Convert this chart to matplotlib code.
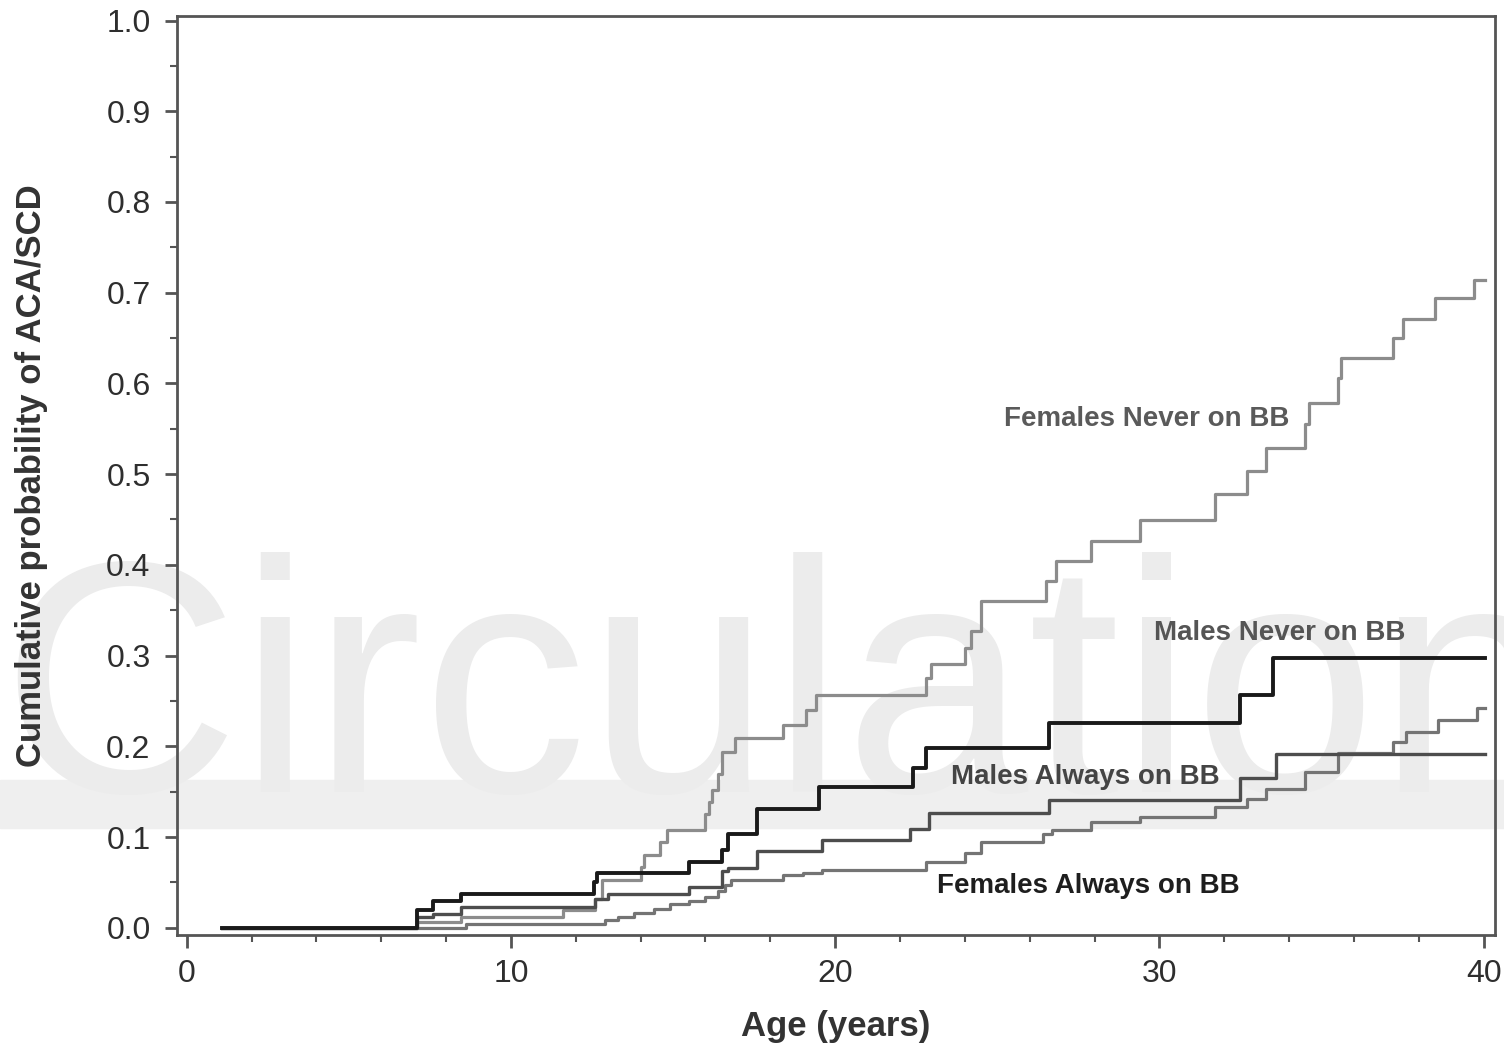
import matplotlib.pyplot as plt
from matplotlib.patches import Rectangle
from matplotlib.ticker import MultipleLocator

# curves: age (years) and cumulative probability, step after each age
males_never_age = [1.1, 7.1, 7.6, 8.45, 12.55, 12.65, 15.5, 16.5, 16.7, 17.6, 19.5,
                   22.4, 22.8, 26.6, 32.5, 33.5, 40.05]
males_never_prob = [0, 0.02, 0.03, 0.037, 0.05, 0.06, 0.073, 0.086, 0.103, 0.131, 0.155,
                    0.176, 0.198, 0.226, 0.257, 0.297, 0.297]

males_always_age = [1.1, 7.1, 7.6, 8.45, 12.6, 13.0, 15.5, 16.5, 16.7, 17.6, 19.6,
                    22.3, 22.9, 26.6, 32.5, 33.6, 40.05]
males_always_prob = [0, 0.012, 0.015, 0.023, 0.032, 0.037, 0.045, 0.062, 0.066, 0.085, 0.097,
                     0.109, 0.127, 0.141, 0.165, 0.192, 0.192]

females_never_age = [1.1, 7.1, 8.45, 11.6, 12.6, 12.8, 14.0, 14.1, 14.6, 14.8, 16.0,
                     16.1, 16.2, 16.4, 16.5, 16.9, 18.4, 19.1, 19.4, 22.8, 22.95,
                     24.0, 24.2, 24.5, 26.5, 26.8, 27.9, 29.4, 31.7, 32.7, 33.3,
                     34.5, 34.6, 35.5, 35.6, 37.2, 37.5, 38.5, 39.7, 40.05]
females_never_prob = [0, 0.006, 0.012, 0.02, 0.032, 0.053, 0.067, 0.08, 0.095, 0.108, 0.125,
                      0.139, 0.152, 0.17, 0.194, 0.209, 0.224, 0.24, 0.256, 0.275, 0.291,
                      0.308, 0.327, 0.36, 0.382, 0.404, 0.426, 0.449, 0.478, 0.503, 0.529,
                      0.555, 0.578, 0.606, 0.628, 0.65, 0.671, 0.694, 0.714, 0.714]

females_always_age = [1.1, 8.6, 12.9, 13.3, 13.8, 14.4, 14.9, 15.5, 16.0, 16.4, 16.6,
                      16.8, 18.4, 19.0, 19.6, 22.8, 24.0, 24.5, 26.4, 26.7, 27.9,
                      29.4, 31.7, 32.7, 33.3, 34.5, 35.5, 37.2, 37.6, 38.6, 39.8, 40.05]
females_always_prob = [0, 0.004, 0.008, 0.012, 0.016, 0.021, 0.026, 0.03, 0.034, 0.04, 0.047,
                       0.053, 0.058, 0.06, 0.064, 0.073, 0.082, 0.095, 0.103, 0.108, 0.117,
                       0.122, 0.133, 0.142, 0.153, 0.172, 0.193, 0.205, 0.216, 0.229, 0.242, 0.242]

labels = ["Females Never on BB", "Males Never on BB", "Males Always on BB", "Females Always on BB"]
label_x = [29.6, 33.7, 27.7, 27.8]
label_y = [0.561, 0.325, 0.166, 0.046]

fig = plt.figure(figsize=(15.04, 10.51), dpi=100)
ax = fig.add_axes([177 / 1504, 1 - 935 / 1051, 1318 / 1504, 919 / 1051])
ax.patch.set_alpha(0)

# journal watermark behind the plot
fig.patches.append(Rectangle((0, 1 - 828 / 1051), 1, 48 / 1051, transform=fig.transFigure,
                             color="#efefef", zorder=-2))
fig.text(0.0, 1 - 792 / 1051, "Circulation", fontsize=238, family="Liberation Sans",
         color="#ececec", ha="left", va="baseline", zorder=-1)

ax.step(females_never_age, females_never_prob, where="post", color="#8c8c8c", lw=2.3)
ax.step(females_always_age, females_always_prob, where="post", color="#747474", lw=2.3)
ax.step(males_always_age, males_always_prob, where="post", color="#4d4d4d", lw=2.4)
ax.step(males_never_age, males_never_prob, where="post", color="#1a1a1a", lw=2.8)

label_colors = ["#5a5a5a", "#555555", "#444444", "#1e1e1e"]
for txt, x, y, c in zip(labels, label_x, label_y, label_colors):
    ax.text(x, y, txt, ha="center", va="center", fontsize=20, fontweight="bold",
            family="Liberation Sans", color=c)

ax.set_xlim(-0.3, 40.35)
ax.set_ylim(-0.008, 1.005)
ax.xaxis.set_major_locator(MultipleLocator(10))
ax.xaxis.set_minor_locator(MultipleLocator(2))
ax.yaxis.set_major_locator(MultipleLocator(0.1))
ax.yaxis.set_minor_locator(MultipleLocator(0.05))
ax.yaxis.set_major_formatter(plt.FormatStrFormatter("%.1f"))

for s in ax.spines.values():
    s.set_color("#555555")
    s.set_linewidth(2)
ax.tick_params(which="major", length=9, width=2, color="#555555", labelsize=23,
               labelcolor="#2e2e2e")
ax.tick_params(which="minor", length=5, width=1.5, color="#555555")
ax.tick_params(axis="x", pad=8)
ax.tick_params(axis="y", pad=10)
for lab in ax.get_xticklabels() + ax.get_yticklabels():
    lab.set_family("Liberation Sans")

ax.set_xlabel("Age (years)", fontsize=25, fontweight="bold", family="Liberation Sans",
              color="#333333", va="top")
ax.set_ylabel("Cumulative probability of ACA/SCD", fontsize=25, fontweight="bold",
              family="Liberation Sans", color="#333333")
ax.xaxis.set_label_coords(0.5, -0.082)
ax.yaxis.set_label_coords(-0.098, 0.5)

fig.savefig("out.png", dpi=100)
